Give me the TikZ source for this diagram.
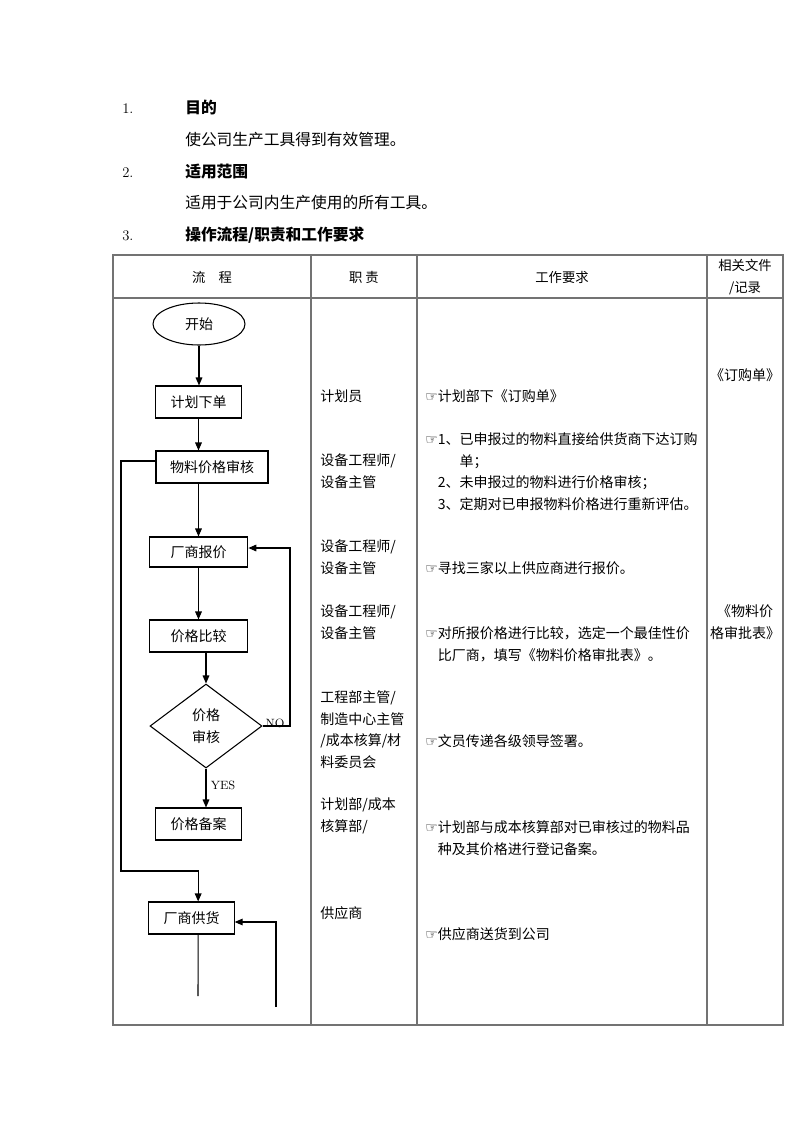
\documentclass[tikz,border=0pt]{standalone}
\usepackage{fontspec}
\newfontfamily\cjk{Noto Sans CJK SC}
\newfontfamily\symb{DejaVu Sans}
\usetikzlibrary{shapes.geometric, arrows.meta, positioning}
\newcommand{\zhishou}{{\symb ☞}}
\tikzset{
    kuang/.style={rectangle, draw, line width=0.8pt, minimum height=24pt, inner sep=2pt, font=\cjk\fontsize{10.5}{12}\selectfont},
    kaishi/.style={ellipse, draw, line width=0.8pt, minimum width=69pt, minimum height=31.5pt, inner sep=0pt, font=\cjk\fontsize{10.5}{12}\selectfont},
    panduan/.style={diamond, draw, line width=0.8pt, aspect=1.33, minimum width=84pt, minimum height=63pt, inner sep=0pt, align=center, font=\cjk\fontsize{10.5}{16.5}\selectfont},
    jiantou/.style={line width=0.8pt, -{Triangle[length=6pt, width=5pt]}},
    xian/.style={line width=0.8pt},
    biaoge/.style={draw=black!55, line width=1pt},
    biaozhu/.style={inner sep=0pt, font=\fontsize{9}{10}\selectfont},
    % 多行文字: 以最后一行的基线定位
    wenzi/.style={anchor=base west, inner sep=0pt, align=left, font=\cjk\fontsize{10.5}{16.1}\selectfont},
    biaotou/.style={inner sep=0pt, align=center, font=\cjk\fontsize{10}{16}\selectfont},
    zhengwen/.style={anchor=base west, inner sep=0pt, font=\cjk\fontsize{11.8}{14}\selectfont},
    bianhao/.style={anchor=base west, inner sep=0pt, font=\fontsize{11}{13}\selectfont}
}
\begin{document}
\begin{tikzpicture}[x=0.75pt, y=-0.75pt]
        \useasboundingbox (0,0) rectangle (800,1132);

        % 标题部分
        \node[bianhao] (n1) at (122,113) {1.};
        \node[zhengwen] (t1) at (185,113) {\bfseries 目的};
        \node[zhengwen] (t1a) at (185,145) {使公司生产工具得到有效管理。};
        \node[bianhao] (n2) at (122,177) {2.};
        \node[zhengwen] (t2) at (185,177) {\bfseries 适用范围};
        \node[zhengwen] (t2a) at (185,208) {适用于公司内生产使用的所有工具。};
        \node[bianhao] (n3) at (122,240) {3.};
        \node[zhengwen] (t3) at (185,240) {\bfseries 操作流程/职责和工作要求};

        % 表格
        \draw[biaoge] (113,255) rectangle (783,1025);
        \draw[biaoge] (113,298) -- (783,298);
        \foreach \x in {311,417,707}
            \draw[biaoge] (\x,255) -- (\x,1025);

        % 表头
        \node[biaotou] (h1) at (212,277) {流　程};
        \node[biaotou] (h2) at (364,277) {职 责};
        \node[biaotou] (h3) at (562,277) {工作要求};
        \node[biaotou] (h4) at (745,277) {相关文件\\/记录};

        % 流程图
        \node[kaishi] (kaishi) at (199,324) {开始};
        \node[kuang, minimum width=64pt] (xiadan) at (198.5,402) {计划下单};
        \node[kuang, minimum width=84pt] (shenhe) at (212,467) {物料价格审核};
        \node[kuang, minimum width=74pt, minimum height=22.5pt] (baojia) at (198.5,552) {厂商报价};
        \node[kuang, minimum width=74pt] (bijiao) at (198.5,636) {价格比较};
        \node[panduan] (jiage) at (206,726) {价格\\审核};
        \node[kuang, minimum width=64pt] (beian) at (198.5,824) {价格备案};
        \node[kuang, minimum width=64pt] (gonghuo) at (191.5,918) {厂商供货};

        \node[biaozhu, anchor=base] (no) at (275,727) {NO};
        \node[biaozhu] (yes) at (223,785) {YES};

        \coordinate (nozhuan) at (290,548);
        \coordinate (zuozhuan) at (121,871);
        \coordinate (xiaduan) at (198,996);
        \coordinate (fanhui) at (276,1007);

        % 连线
        \draw[jiantou] (kaishi.south) -- (kaishi.south |- xiadan.north);
        \draw[jiantou] (xiadan.south) -- (xiadan.south |- shenhe.north);
        \draw[jiantou] (shenhe.south -| baojia) -- (baojia.north);
        \draw[jiantou] (baojia) -- (bijiao);
        \draw[jiantou] (bijiao.south -| jiage) -- (jiage.north);
        \draw[jiantou] (jiage.south) -- (jiage.south |- beian.north);
        \draw[jiantou] (jiage.east) -| (nozhuan) -- (nozhuan -| baojia.east);
        \draw[jiantou] ([yshift=4.5pt]shenhe.west) -| (zuozhuan) -| ([xshift=5pt]gonghuo.north);
        \draw[xian] ([xshift=5pt]gonghuo.south) -- (xiaduan);
        \draw[jiantou] (fanhui) |- ([yshift=-3pt]gonghuo.east);

        % 职责
        \node[wenzi] (zz1) at (320,401) {计划员};
        \node[wenzi] (zz2) at (320,487) {设备工程师/\\设备主管};
        \node[wenzi] (zz3) at (320,573) {设备工程师/\\设备主管};
        \node[wenzi] (zz4) at (320,638) {设备工程师/\\设备主管};
        \node[wenzi] (zz5) at (320,767) {工程部主管/\\制造中心主管\\/成本核算/材\\料委员会};
        \node[wenzi] (zz6) at (320,831) {计划部/成本\\核算部/};
        \node[wenzi] (zz7) at (320,918) {供应商};

        % 工作要求
        \node[wenzi] (yq1) at (425,401) {\zhishou 计划部下《订购单》};
        \node[wenzi] (yq2) at (425,509) {\zhishou 1、已申报过的物料直接给供货商下达订购\\\phantom{\zhishou 1、}单；\\\phantom{\zhishou}2、未申报过的物料进行价格审核；\\\phantom{\zhishou}3、定期对已申报物料价格进行重新评估。};
        \node[wenzi] (yq3) at (425,573) {\zhishou 寻找三家以上供应商进行报价。};
        \node[wenzi] (yq4) at (425,660) {\zhishou 对所报价格进行比较，选定一个最佳性价\\\phantom{\zhishou}比厂商，填写《物料价格审批表》。};
        \node[wenzi] (yq5) at (425,746) {\zhishou 文员传递各级领导签署。};
        \node[wenzi] (yq6) at (425,854) {\zhishou 计划部与成本核算部对已审核过的物料品\\\phantom{\zhishou}种及其价格进行登记备案。};
        \node[wenzi] (yq7) at (425,939) {\zhishou 供应商送货到公司};

        % 相关文件
        \node[wenzi, anchor=base, align=center] (wj1) at (745,380) {《订购单》};
        \node[wenzi, anchor=base, align=center] (wj2) at (745,638) {《物料价\\格审批表》};

\end{tikzpicture}
\end{document}
